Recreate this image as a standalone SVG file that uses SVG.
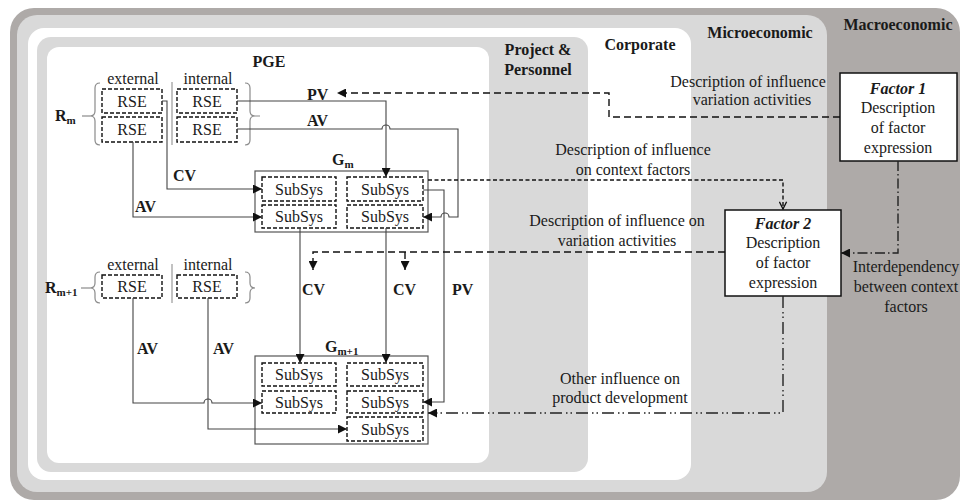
<svg xmlns="http://www.w3.org/2000/svg" width="960" height="501" viewBox="0 0 960 501">
<defs>
<style>
text{font-family:"Liberation Serif","Times New Roman",serif;fill:#1a1a1a;font-size:16px}
.b{font-weight:bold}
.bi{font-weight:bold;font-style:italic}
.sub{font-size:11px;font-weight:bold}
.c{text-anchor:middle}
.dbox{fill:none;stroke:#111;stroke-width:1.4;stroke-dasharray:4 2}
.gbox{fill:none;stroke:#555;stroke-width:1.2}
.fbox{fill:#fff;stroke:#111;stroke-width:1.5}
.sol{fill:none;stroke:#444;stroke-width:1.1}
.dash1{fill:none;stroke:#111;stroke-width:1.4;stroke-dasharray:7 4}
.dash2{fill:none;stroke:#111;stroke-width:1.4;stroke-dasharray:4 2.5}
.dd{fill:none;stroke:#222;stroke-width:1.4;stroke-dasharray:10 3 1.5 3}
.ddd{fill:none;stroke:#222;stroke-width:1.4;stroke-dasharray:12 4 1.5 3 1.5 4}
.brace{fill:none;stroke:#8a8a8a;stroke-width:1.2}
</style>
<marker id="ah" viewBox="0 0 10 10" refX="10" refY="5" markerWidth="9" markerHeight="9" markerUnits="userSpaceOnUse" orient="auto"><path d="M0,0 L10,5 L0,10 z" fill="#111"/></marker>
<marker id="av" viewBox="0 0 10 10" refX="9" refY="5" markerWidth="9" markerHeight="9" markerUnits="userSpaceOnUse" orient="auto"><path d="M1,1 L9,5 L1,9" fill="none" stroke="#111" stroke-width="1.5"/></marker>
</defs>

<g id="layers">
<rect x="10" y="8" width="950" height="492" rx="24" fill="#aeaaa8"/>
<rect x="17" y="15" width="810" height="477" rx="20" fill="#d9d9d9"/>
<rect x="28" y="28" width="663" height="452" rx="16" fill="#ffffff"/>
<rect x="37" y="37" width="551" height="435" rx="14" fill="#d9d9d9"/>
<rect x="47" y="47" width="442" height="416" rx="12" fill="#ffffff"/>
<text class="b c" x="898" y="30">Macroeconomic</text>
<text class="b c" x="760" y="38">Microeconomic</text>
<text class="b c" x="640" y="50">Corporate</text>
<text class="b c" x="538" y="55">Project &amp;</text>
<text class="b c" x="538" y="75">Personnel</text>
<text class="b c" x="269" y="67">PGE</text>
</g>

<g id="Rm">
<text class="b" x="55" y="121">R<tspan class="sub" dy="3">m</tspan></text>
<path class="brace" d="M82,116 H90"/>
<path class="brace" d="M100,83 Q95,83 95,88 V111 Q95,116 90,116 Q95,116 95,121 V140 Q95,145 100,145"/>
<path class="brace" d="M245,83 Q250,83 250,88 V111 Q250,116 255,116 Q250,116 250,121 V140 Q250,145 245,145 M255,116 H260"/>
<line x1="172" y1="82" x2="172" y2="145" stroke="#999" stroke-width="1.2"/>
<text class="c" x="133" y="84">external</text>
<text class="c" x="208" y="84">internal</text>
<rect class="dbox" x="102" y="89" width="60" height="24"/>
<text class="c" x="132" y="107">RSE</text>
<rect class="dbox" x="102" y="117" width="60" height="25"/>
<text class="c" x="132" y="135">RSE</text>
<rect class="dbox" x="177" y="89" width="60" height="24"/>
<text class="c" x="207" y="107">RSE</text>
<rect class="dbox" x="177" y="117" width="60" height="25"/>
<text class="c" x="207" y="135">RSE</text>
</g>

<g id="Rm1">
<text class="b" x="45" y="293">R<tspan class="sub" dy="3">m+1</tspan></text>
<path class="brace" d="M81,288 H90"/>
<path class="brace" d="M100,272 Q95,272 95,277 V283 Q95,288 90,288 Q95,288 95,293 V298 Q95,303 100,303"/>
<path class="brace" d="M245,272 Q250,272 250,277 V283 Q250,288 255,288 Q250,288 250,293 V298 Q250,303 245,303"/>
<line x1="172" y1="264" x2="172" y2="303" stroke="#999" stroke-width="1.2"/>
<text class="c" x="133" y="270">external</text>
<text class="c" x="208" y="270">internal</text>
<rect class="dbox" x="102" y="275" width="60" height="23"/>
<text class="c" x="132" y="292">RSE</text>
<rect class="dbox" x="177" y="275" width="60" height="23"/>
<text class="c" x="207" y="292">RSE</text>
</g>

<g id="Gm">
<text class="b" x="332" y="165">G<tspan class="sub" dy="3">m</tspan></text>
<rect class="gbox" x="255" y="171" width="173" height="61"/>
<rect class="dbox" x="262" y="177" width="74" height="24"/>
<text class="c" x="299" y="195">SubSys</text>
<rect class="dbox" x="347" y="177" width="76" height="24"/>
<text class="c" x="385" y="195">SubSys</text>
<rect class="dbox" x="262" y="205" width="74" height="23"/>
<text class="c" x="299" y="222">SubSys</text>
<rect class="dbox" x="347" y="205" width="76" height="23"/>
<text class="c" x="385" y="222">SubSys</text>
</g>

<g id="Gm1">
<text class="b" x="325" y="352">G<tspan class="sub" dy="3">m+1</tspan></text>
<rect class="gbox" x="255" y="356" width="173" height="88"/>
<rect class="dbox" x="262" y="363" width="74" height="23"/>
<text class="c" x="299" y="380">SubSys</text>
<rect class="dbox" x="347" y="363" width="76" height="23"/>
<text class="c" x="385" y="380">SubSys</text>
<rect class="dbox" x="262" y="391" width="74" height="22"/>
<text class="c" x="299" y="408">SubSys</text>
<rect class="dbox" x="347" y="391" width="76" height="22"/>
<text class="c" x="385" y="408">SubSys</text>
<rect class="dbox" x="347" y="417" width="76" height="24"/>
<text class="c" x="385" y="435">SubSys</text>
</g>

<g id="Factor1">
<rect class="fbox" x="840" y="73" width="117" height="88"/>
<text class="bi c" x="898" y="94">Factor 1</text>
<text class="c" x="898" y="113">Description</text>
<text class="c" x="898" y="133">of factor</text>
<text class="c" x="898" y="153">expression</text>
</g>

<g id="Factor2">
<rect class="fbox" x="725" y="210" width="116" height="86"/>
<text class="bi c" x="783" y="229">Factor 2</text>
<text class="c" x="783" y="248">Description</text>
<text class="c" x="783" y="268">of factor</text>
<text class="c" x="783" y="288">expression</text>
</g>

<g id="connectors">
<!-- solid -->
<path class="sol" d="M237,101 H386 V177" marker-end="url(#ah)"/>
<path class="sol" d="M237,129 H382 A4,4 0 0 1 390,129 H458 V217 H449 A4,4 0 0 0 441,217 H423" marker-end="url(#ah)"/>
<path class="sol" d="M162,101 H167 V189 H262" marker-end="url(#ah)"/>
<path class="sol" d="M133,142 V217 H262" marker-end="url(#ah)"/>
<path class="sol" d="M423,190 H444 V402 H423" marker-end="url(#ah)"/>
<path class="sol" d="M300,228 V363" marker-end="url(#ah)"/>
<path class="sol" d="M386,228 V363" marker-end="url(#ah)"/>
<path class="sol" d="M133,298 V403 H204 A4,4 0 0 1 212,403 H262" marker-end="url(#ah)"/>
<path class="sol" d="M208,298 V429 H347" marker-end="url(#ah)"/>
<!-- dashed -->
<path class="dash1" d="M840,117 H609 V93 H337" marker-end="url(#ah)"/>
<path class="dash2" d="M428,180 H783 V209" marker-end="url(#av)"/>
<path class="dash1" d="M725,252 H313 V270" marker-end="url(#ah)"/>
<path class="dash1" d="M405,252 V270" marker-end="url(#ah)"/>
<!-- dash-dot -->
<path class="dd" d="M898,161 V253 H841" marker-end="url(#ah)"/>
<path class="ddd" d="M783,296 V413 H428" marker-end="url(#ah)"/>
<!-- labels -->
<text class="b" x="307" y="100">PV</text>
<text class="b" x="307" y="126">AV</text>
<text class="b" x="173" y="181">CV</text>
<text class="b" x="135" y="212">AV</text>
<text class="b" x="302" y="295">CV</text>
<text class="b" x="393" y="295">CV</text>
<text class="b" x="452" y="295">PV</text>
<text class="b" x="137" y="354">AV</text>
<text class="b" x="213" y="354">AV</text>
<text class="c" x="748" y="87">Description of influence</text>
<text class="c" x="752" y="105">variation activities</text>
<text class="c" x="633" y="155">Description of influence</text>
<text class="c" x="633" y="175">on context factors</text>
<text class="c" x="617" y="226">Description of influence on</text>
<text class="c" x="617" y="246">variation activities</text>
<text class="c" x="906" y="272">Interdependency</text>
<text class="c" x="906" y="292">between context</text>
<text class="c" x="906" y="312">factors</text>
<text class="c" x="620" y="384">Other influence on</text>
<text class="c" x="620" y="403">product development</text>
</g>
</svg>
